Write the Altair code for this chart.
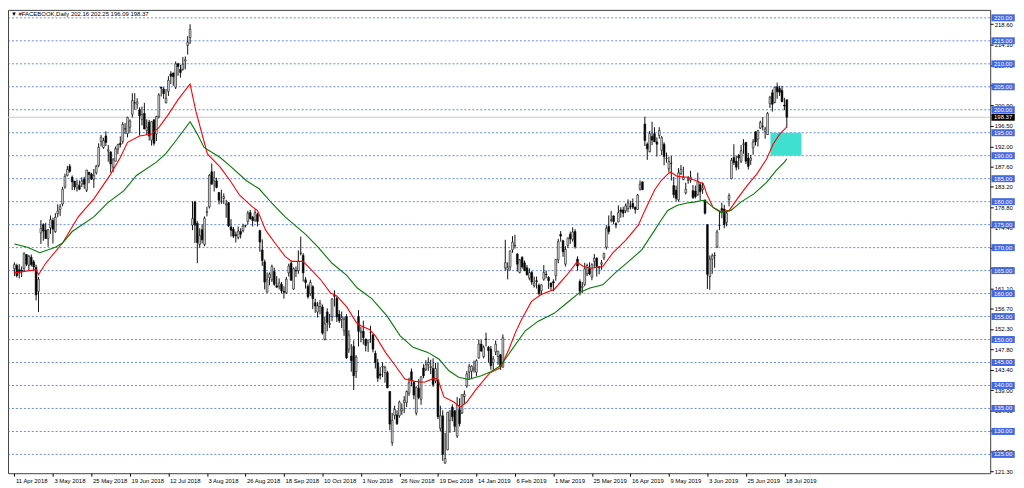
import json
import altair as alt
import pandas as pd

FONT = "Liberation Sans"

date_labels = ["11 Apr 2018", "3 May 2018", "25 May 2018", "19 Jun 2018", "12 Jul 2018",
               "3 Aug 2018", "26 Aug 2018", "18 Sep 2018", "10 Oct 2018", "1 Nov 2018",
               "26 Nov 2018", "19 Dec 2018", "14 Jan 2019", "6 Feb 2019", "1 Mar 2019",
               "25 Mar 2019", "16 Apr 2019", "9 May 2019", "3 Jun 2019", "25 Jun 2019",
               "18 Jul 2019"]
date_ticks = [0, 16, 32, 48, 64, 80, 96, 112, 128, 144, 160, 176, 192, 208, 224, 240,
              256, 272, 288, 304, 320]

price_ticks = [223.00, 218.60, 214.10, 209.70, 205.30, 200.90, 196.50, 192.00, 187.60,
               183.20, 178.80, 174.40, 169.90, 165.50, 161.10, 156.70, 152.30, 147.80,
               143.40, 139.00, 134.60, 130.10, 125.70, 121.30]
levels = [125, 130, 135, 140, 145, 150, 155, 160, 165, 170, 175, 180, 185, 190, 195,
          200, 205, 210, 215, 220]

opens = [
    165.4, 166.1, 165.2, 165.1, 165.5, 168.5, 166.2, 167.9, 166.9, 165.7,
    160.5, 173.2, 175.0, 173.8, 172.0, 174.3, 175.9, 173.5, 177.4, 178.3,
    179.5, 183.2, 185.7, 187.7, 185.3, 184.5, 183.0, 183.5, 183.8, 184.9,
    182.5, 186.4, 186.0, 184.9, 186.3, 187.9, 193.1, 191.8, 194.3, 191.0,
    190.8, 187.5, 188.8, 191.4, 192.7, 193.1, 195.8, 194.8, 196.2, 199.0,
    201.5, 201.2, 200.0, 197.9, 199.2, 195.5, 197.3, 193.4, 197.8, 194.7,
    198.5, 204.9, 204.5, 201.5, 204.0, 207.8, 208.0, 204.9, 210.0, 208.8,
    208.8, 210.6, 214.0, 215.7, 174.9, 179.9, 175.3, 170.7, 173.9, 170.7,
    177.7, 178.9, 186.5, 184.5, 184.5, 182.0, 180.1, 180.7, 179.3, 179.8,
    174.5, 174.0, 172.8, 172.2, 173.5, 173.7, 174.7, 175.7, 177.6, 176.6,
    176.0, 177.2, 173.7, 169.5, 166.9, 160.3, 163.5, 163.0, 164.8, 161.7,
    161.6, 162.0, 160.5, 160.2, 164.5, 166.6, 161.0, 165.0, 165.0, 168.8,
    168.3, 163.0, 161.6, 160.0, 161.5, 158.0, 156.0, 157.2, 157.1, 150.1,
    156.0, 153.3, 155.0, 159.6, 159.0, 155.5, 154.4, 151.9, 155.0, 147.9,
    146.4, 148.5, 143.0, 155.0, 151.5, 151.8, 150.1, 149.3, 151.5, 151.0,
    147.0, 144.9, 142.5, 144.0, 142.8, 142.8, 138.7, 127.6, 133.5, 133.6,
    133.4, 134.5, 136.3, 136.3, 138.3, 143.0, 140.7, 134.0, 139.4, 137.0,
    143.8, 143.5, 144.5, 143.9, 143.7, 141.0, 141.2, 130.7, 133.4, 123.1,
    126.0, 132.4, 135.3, 134.5, 129.0, 134.7, 134.0, 137.6, 139.9, 142.9,
    143.1, 143.4, 142.9, 146.0, 149.0, 146.3, 150.1, 148.3, 147.9, 145.0,
    147.3, 146.3, 146.7, 144.0, 165.6, 165.2, 165.8, 169.5, 170.4, 168.6,
    164.6, 167.9, 166.7, 165.6, 163.4, 164.6, 161.7, 162.8, 161.8, 160.6,
    163.1, 164.2, 163.5, 162.3, 162.6, 163.9, 167.4, 172.9, 171.5, 166.4,
    170.5, 172.9, 171.8, 173.5, 167.5, 162.6, 161.3, 162.0, 164.3, 165.4,
    163.6, 167.0, 167.7, 165.8, 166.4, 167.8, 170.1, 174.6, 176.0, 176.9,
    175.2, 175.6, 178.2, 178.2, 178.0, 178.5, 179.0, 179.6, 178.8, 178.3,
    182.7, 184.3, 196.9, 192.5, 190.9, 194.2, 194.8, 193.0, 194.4, 191.2,
    192.5, 189.4, 187.2, 188.3, 183.5, 182.5, 180.4, 186.1, 184.8, 181.9,
    184.6, 184.7, 182.4, 182.3, 181.5, 183.7, 182.6, 180.3, 175.0, 163.7,
    167.5, 168.3, 170.2, 174.8, 178.5, 178.4, 175.5, 180.5, 185.0, 189.6,
    188.8, 190.0, 188.8, 192.4, 192.9, 189.5, 189.0, 191.7, 195.2, 193.6,
    196.0, 196.4, 195.2, 194.6, 201.3, 203.7, 201.6, 205.0, 204.6, 204.2,
    201.0, 202.16]

highs = [
    166.8, 166.5, 166.4, 165.9, 169.0, 168.6, 168.4, 168.5, 167.3, 166.3,
    163.6, 176.0, 175.3, 175.4, 174.0, 177.0, 176.5, 177.5, 179.4, 179.5,
    183.2, 186.1, 187.8, 188.2, 185.7, 184.5, 184.8, 184.6, 185.3, 185.4,
    186.9, 186.5, 186.3, 187.1, 188.0, 192.7, 194.5, 193.9, 195.3, 192.3,
    191.0, 189.5, 192.0, 192.6, 194.2, 197.3, 197.1, 198.5, 197.9, 203.6,
    203.6, 202.5, 200.5, 200.7, 201.5, 197.9, 197.8, 197.5, 197.9, 198.7,
    203.6, 205.0, 204.9, 204.5, 207.3, 208.4, 208.1, 210.5, 210.2, 209.8,
    211.5, 211.6, 216.0, 218.6, 180.1, 180.2, 175.8, 174.2, 175.1, 176.8,
    178.9, 186.0, 188.3, 186.6, 185.2, 182.1, 182.6, 181.8, 180.4, 179.9,
    176.2, 174.5, 173.5, 174.6, 174.2, 175.2, 175.0, 178.0, 178.2, 176.9,
    178.3, 177.6, 173.9, 171.8, 167.4, 164.6, 164.6, 166.3, 165.6, 163.8,
    163.3, 162.5, 161.6, 163.6, 166.5, 167.2, 165.7, 165.9, 169.4, 172.4,
    168.8, 163.6, 162.0, 163.0, 161.8, 158.9, 158.2, 158.6, 157.6, 155.0,
    156.8, 155.6, 159.0, 160.7, 159.4, 156.4, 156.1, 155.0, 155.5, 152.0,
    149.0, 149.8, 146.6, 156.4, 152.8, 154.1, 150.2, 150.0, 153.0, 151.2,
    147.6, 145.8, 144.0, 145.0, 144.3, 143.2, 138.8, 134.0, 135.6, 134.6,
    136.7, 136.1, 137.7, 138.9, 141.7, 143.7, 141.0, 139.8, 141.4, 142.0,
    144.6, 145.5, 146.1, 145.6, 145.9, 144.9, 144.9, 135.6, 134.6, 129.7,
    134.2, 134.0, 135.9, 134.6, 137.5, 137.2, 138.0, 138.9, 143.1, 144.7,
    144.4, 145.4, 145.7, 150.0, 149.9, 148.7, 151.5, 148.6, 148.6, 146.4,
    149.8, 147.5, 146.8, 151.1, 171.7, 166.8, 169.3, 172.5, 172.8, 168.8,
    167.5, 168.1, 167.2, 166.2, 165.5, 164.9, 163.7, 163.7, 162.2, 162.0,
    166.2, 165.0, 163.8, 162.4, 163.1, 167.5, 171.9, 173.6, 171.7, 170.3,
    172.2, 173.5, 174.4, 174.0, 168.1, 163.1, 162.5, 166.7, 166.5, 166.8,
    166.6, 168.6, 167.9, 166.0, 167.3, 168.9, 174.9, 177.0, 178.0, 177.0,
    175.5, 179.2, 178.8, 178.9, 179.6, 180.5, 180.2, 180.7, 178.9, 181.7,
    184.6, 184.4, 198.5, 192.9, 195.4, 197.4, 196.2, 194.0, 196.2, 194.3,
    192.9, 190.7, 189.8, 190.0, 185.4, 183.5, 187.3, 188.0, 187.6, 184.1,
    185.6, 186.7, 183.6, 183.5, 186.3, 184.1, 184.2, 180.5, 175.1, 168.3,
    168.7, 169.0, 173.9, 177.9, 179.8, 179.3, 178.0, 181.8, 189.5, 192.5,
    190.0, 190.4, 192.3, 193.6, 193.0, 190.6, 190.2, 193.6, 195.3, 195.5,
    197.6, 198.4, 196.3, 199.5, 203.0, 204.4, 205.0, 205.9, 205.2, 205.2,
    202.6, 202.25]

lows = [
    163.8, 163.5, 163.3, 163.6, 164.9, 166.0, 165.0, 165.9, 165.0, 158.5,
    156.0, 170.8, 171.5, 171.9, 170.2, 173.0, 170.9, 173.2, 176.6, 176.9,
    179.0, 182.8, 185.5, 186.3, 182.5, 182.5, 182.2, 182.5, 183.2, 182.8,
    182.1, 184.0, 184.7, 183.0, 185.9, 187.5, 192.0, 191.5, 192.1, 188.7,
    186.3, 186.4, 188.8, 190.3, 191.8, 192.6, 194.7, 194.0, 194.9, 198.3,
    200.0, 200.2, 194.4, 196.6, 195.8, 194.5, 193.3, 192.2, 192.2, 193.2,
    198.1, 202.9, 202.4, 201.4, 203.0, 205.6, 205.2, 204.5, 207.4, 207.0,
    208.5, 208.8, 212.0, 214.3, 173.8, 171.0, 166.6, 170.0, 170.9, 170.3,
    176.8, 178.5, 183.7, 182.2, 182.9, 179.4, 179.5, 179.5, 176.5, 174.5,
    172.4, 172.1, 171.1, 171.8, 172.0, 173.3, 174.4, 175.0, 176.1, 174.6,
    175.6, 174.6, 169.1, 166.0, 160.9, 160.2, 161.8, 162.5, 161.7, 161.2,
    160.9, 160.0, 158.9, 159.9, 163.7, 162.8, 160.8, 163.6, 164.3, 168.3,
    162.6, 161.1, 158.9, 159.5, 156.6, 155.8, 154.8, 155.5, 151.1, 149.8,
    151.8, 152.5, 154.0, 157.2, 153.8, 153.6, 152.5, 150.8, 145.8, 147.1,
    143.0, 139.0, 141.6, 148.5, 149.4, 148.9, 147.4, 147.3, 149.3, 147.2,
    143.7, 140.8, 141.3, 141.8, 140.6, 139.4, 130.3, 126.9, 132.6, 131.4,
    133.0, 133.6, 134.0, 135.3, 137.7, 139.8, 137.0, 133.5, 137.0, 135.8,
    141.6, 143.1, 143.2, 142.5, 139.7, 140.5, 132.7, 130.0, 123.6, 123.0,
    125.9, 129.7, 132.2, 129.9, 128.6, 131.1, 133.8, 135.9, 139.5, 141.3,
    141.4, 142.8, 142.0, 145.8, 147.3, 145.9, 148.5, 145.0, 143.4, 143.3,
    146.6, 144.5, 143.4, 143.9, 165.0, 163.1, 165.0, 168.9, 169.8, 164.8,
    164.4, 165.4, 164.9, 163.9, 162.9, 161.9, 161.3, 161.1, 159.6, 159.8,
    162.8, 163.3, 161.0, 160.7, 160.5, 162.8, 166.6, 171.3, 168.0, 165.9,
    169.9, 170.8, 171.3, 169.8, 165.0, 159.6, 160.1, 161.6, 163.8, 164.0,
    162.9, 165.6, 163.7, 164.2, 165.2, 167.3, 169.6, 172.9, 175.5, 175.1,
    174.2, 175.5, 176.5, 176.6, 177.5, 177.7, 178.3, 178.4, 177.4, 178.2,
    182.4, 182.5, 192.1, 189.1, 190.7, 192.3, 193.0, 189.8, 193.7, 190.1,
    187.9, 188.5, 186.3, 184.6, 180.8, 180.1, 180.0, 185.8, 184.7, 181.6,
    183.9, 184.1, 180.6, 180.7, 181.3, 180.3, 181.7, 177.2, 161.0, 160.8,
    164.3, 165.6, 169.9, 173.8, 176.4, 174.2, 174.6, 179.0, 184.9, 188.0,
    186.8, 187.0, 188.4, 190.4, 188.2, 187.0, 188.0, 190.2, 192.2, 192.0,
    195.8, 195.5, 193.7, 194.5, 200.4, 199.6, 201.4, 202.4, 203.0, 201.6,
    199.9, 196.09]

closes = [
    166.3, 163.9, 164.5, 164.8, 168.7, 166.4, 168.1, 166.3, 165.8, 159.7,
    163.1, 174.2, 173.6, 172.0, 173.9, 176.1, 174.0, 176.6, 178.0, 178.9,
    182.7, 185.5, 187.0, 186.6, 184.3, 183.2, 183.8, 182.7, 184.5, 183.8,
    186.9, 185.9, 184.9, 185.7, 187.7, 191.8, 194.0, 193.3, 192.9, 191.3,
    188.2, 189.1, 191.5, 192.4, 192.4, 196.8, 195.9, 198.3, 197.5, 202.0,
    201.5, 201.7, 198.7, 199.0, 195.8, 196.2, 194.3, 197.4, 192.7, 198.5,
    203.2, 204.7, 203.5, 202.5, 206.4, 207.3, 207.2, 210.0, 209.4, 208.1,
    209.9, 210.9, 214.7, 217.5, 176.3, 174.9, 171.1, 172.6, 171.7, 176.4,
    177.8, 185.7, 183.8, 185.2, 183.1, 180.3, 180.1, 181.1, 179.5, 174.7,
    173.8, 172.5, 172.6, 173.6, 172.9, 174.7, 174.8, 177.5, 176.3, 175.9,
    177.6, 175.7, 171.2, 167.2, 162.5, 163.0, 164.2, 165.9, 162.0, 161.4,
    162.3, 160.6, 160.3, 163.1, 166.0, 162.9, 165.4, 164.9, 167.0, 168.8,
    164.5, 162.4, 159.3, 162.4, 158.9, 157.3, 157.3, 157.9, 151.4, 153.4,
    153.7, 153.5, 158.8, 159.4, 154.9, 154.1, 154.8, 154.4, 146.0, 151.0,
    145.4, 142.1, 146.2, 151.8, 151.8, 150.4, 148.7, 149.9, 151.5, 147.9,
    145.0, 141.6, 142.2, 144.2, 143.9, 139.5, 131.6, 132.4, 134.8, 131.7,
    136.4, 135.0, 136.8, 138.7, 140.6, 141.1, 137.9, 139.6, 137.4, 141.9,
    142.1, 144.5, 145.0, 144.1, 140.2, 143.7, 133.2, 133.4, 125.0, 124.1,
    134.2, 134.5, 133.2, 131.1, 135.7, 131.7, 138.0, 138.1, 142.5, 144.2,
    144.2, 143.8, 145.4, 149.0, 147.5, 148.3, 150.0, 147.6, 144.3, 145.8,
    149.0, 147.5, 144.2, 150.4, 166.7, 165.7, 169.3, 171.2, 170.5, 166.4,
    167.3, 165.8, 165.0, 164.1, 164.6, 162.5, 162.3, 162.6, 160.0, 161.9,
    164.6, 164.1, 162.8, 161.5, 162.3, 167.4, 171.3, 172.5, 169.1, 169.6,
    172.1, 171.9, 173.4, 170.2, 166.0, 160.5, 161.6, 165.4, 166.1, 164.3,
    166.3, 167.7, 165.9, 165.6, 166.7, 168.7, 174.2, 173.5, 176.0, 175.7,
    174.9, 177.6, 177.8, 177.5, 179.1, 179.7, 178.9, 178.8, 178.3, 181.4,
    183.8, 182.6, 193.3, 191.5, 194.8, 193.4, 193.0, 192.5, 195.5, 193.9,
    189.8, 189.5, 188.7, 188.3, 181.5, 180.7, 186.3, 187.0, 185.3, 182.7,
    184.8, 185.3, 180.9, 181.1, 184.3, 182.2, 183.0, 177.5, 164.2, 167.5,
    168.2, 168.3, 173.4, 174.8, 178.1, 175.0, 177.5, 181.3, 189.0, 188.5,
    187.5, 189.5, 191.1, 192.6, 188.8, 187.7, 189.5, 193.0, 193.0, 195.5,
    197.2, 196.4, 195.8, 199.2, 202.7, 201.2, 204.9, 203.9, 203.8, 201.8,
    200.8, 198.37]

# moving averages (bar position, value)
red_bar = [0, 9, 10, 13, 20, 26.5, 33, 40, 44, 47, 52, 57, 60, 64, 68, 73, 75.4, 80.2,
           85.5, 89.6, 93.6, 99, 101, 104.4, 108.4, 112.5, 115.2, 119.9, 123.3, 127.3,
           131.4, 134, 138.1, 142.1, 144, 147.5, 150, 154.2, 158.3, 162.3, 166.4, 170.4,
           174.5, 176, 178.5, 182.6, 185.3, 188, 192.1, 197.5, 202.1, 205.5, 208.2,
           210.8, 214.9, 218.9, 224.3, 229.7, 233.7, 236.5, 239.8, 244.5, 248.6, 254,
           259.3, 262, 266.1, 268.8, 271.5, 272.8, 275.5, 279.6, 283.6, 286.3, 287.7,
           290.3, 293.7, 297.1, 300.4, 304.5, 308.5, 312.6, 315.3, 318, 320, 321]
red_val = [164.5, 165.2, 164.1, 166.6, 171.0, 176.7, 180.6, 186.0, 189.6, 192.9, 194.3,
           194.7, 196.1, 199.0, 202.2, 205.6, 199.7, 190.4, 187.5, 184.6, 181.4, 178.8,
           178.1, 173.8, 170.9, 168.1, 167.0, 167.0, 165.2, 163.0, 160.1, 159.5, 157.1,
           153.7, 153.0, 152.2, 150.8, 147.2, 144.3, 141.4, 140.9, 140.7, 141.6, 141.3,
           137.5, 136.4, 135.3, 136.4, 139.3, 142.7, 143.9, 147.9, 151.5, 154.4, 158.3,
           159.8, 160.9, 164.1, 166.8, 165.9, 165.5, 165.9, 168.8, 171.6, 174.9, 178.1,
           182.6, 184.6, 186.0, 186.4, 185.5, 185.3, 184.5, 183.9, 181.7, 178.8, 177.8,
           178.1, 180.6, 183.5, 186.0, 189.3, 192.5, 194.7, 195.75, 196.3]
green_bar = [0, 5.4, 10.5, 17, 20, 24, 33, 38.6, 45.5, 50.7, 59, 63, 67, 73, 76, 78.8,
             85.5, 89.6, 96.3, 101.7, 107.1, 112.5, 116.5, 121, 126, 132, 138, 142.5,
             148.5, 154.9, 160.3, 165.7, 171.8, 176.5, 180.6, 184.6, 188.7, 194, 198,
             202, 206.9, 212.3, 217.7, 224.3, 229.7, 235.1, 239.2, 244.5, 249.9, 255.3,
             260.7, 266.1, 268.8, 271.5, 275.5, 279.6, 282.3, 286.3, 287.7, 291, 293.7,
             297.8, 301.9, 307.3, 312.6, 316.6, 320, 321]
green_val = [170.8, 170.1, 168.9, 170.1, 171.0, 173.5, 176.7, 179.7, 182.4, 185.7, 188.6,
             190.5, 193.2, 197.4, 194.7, 191.8, 189.6, 187.8, 184.6, 182.8, 179.6, 176.7,
             174.9, 172.9, 170.2, 166.6, 164.0, 161.2, 158.9, 155.1, 150.8, 148.3, 147.2,
             145.7, 143.2, 141.8, 141.3, 142.1, 143.0, 144.3, 147.9, 151.9, 154.0, 155.7,
             158.0, 160.3, 161.2, 161.9, 164.6, 167.0, 169.5, 173.8, 176.0, 178.1, 179.2,
             179.7, 179.9, 180.3, 179.9, 178.5, 177.6, 178.1, 179.9, 181.7, 184.2, 186.8,
             188.6, 189.3]

# highlighted zone (bar range, price range)
zone_bars = [314.2, 327.1]
zone_prices = [190.0, 195.0]

N = len(closes)
bars = pd.DataFrame({"i": list(range(N)), "open": opens, "high": highs,
                     "low": lows, "close": closes})
lvl_df = pd.DataFrame({"lvl": levels, "txt": [f"{v:.2f}" for v in levels]})
bid_df = pd.DataFrame({"p": [closes[-1]], "txt": [f"{closes[-1]:.2f}"]})
red_df = pd.DataFrame({"b": red_bar, "v": red_val})
green_df = pd.DataFrame({"b": green_bar, "v": green_val})
zone_df = pd.DataFrame({"x0": [zone_bars[0]], "x1": [zone_bars[1]],
                        "y0": [zone_prices[0]], "y1": [zone_prices[1]]})
header = (f"\u25BC #FACEBOOK,Daily  {opens[-1]:.2f} {highs[-1]:.2f} "
          f"{lows[-1]:.2f} {closes[-1]:.2f}")
head_df = pd.DataFrame({"t": [header]})

W, H = 990, 467
xs = alt.Scale(domain=[-0.612, 403.47], nice=False, zero=False)
ys = alt.Scale(domain=[120.91, 221.73], nice=False, zero=False)

label_expr = json.dumps(date_labels) + "[round(datum.value / 16)]"
XA = alt.Axis(values=date_ticks, labelExpr=label_expr, title=None, grid=False,
              domain=False, tickSize=3, tickColor="black", labelFont=FONT,
              labelFontSize=6, labelColor="black", labelAlign="left",
              labelBaseline="top", labelPadding=1, labelOffset=1,
              labelFlush=False, labelOverlap=False)
YA = alt.Axis(orient="right", values=price_ticks, format=".2f", title=None,
              grid=False, domain=False, tickSize=3, tickColor="black",
              labelFont=FONT, labelFontSize=6, labelColor="black",
              labelPadding=1, labelFlush=False, labelOverlap=False,
              labelBaseline="middle")


def X(field):
    return alt.X(field, scale=xs, axis=XA)


def Y(field):
    return alt.Y(field, scale=ys, axis=YA)


grid = alt.Chart(lvl_df).mark_rule(color="#4169E1", strokeDash=[2, 2], strokeWidth=1,
                                   opacity=0.8).encode(y=Y("lvl:Q"))

bid_line = alt.Chart(bid_df).mark_rule(color="#C8C8C8", strokeWidth=1).encode(
    y=Y("p:Q"))

zone = alt.Chart(zone_df).mark_rect(color="#40E0D0").encode(
    x=X("x0:Q"), x2="x1", y=Y("y0:Q"), y2="y1")

wicks = alt.Chart(bars).mark_rule(color="#111111", strokeWidth=1).encode(
    x=X("i:Q"), y=Y("low:Q"), y2="high")

bodies = alt.Chart(bars).mark_bar(size=1.8, stroke="#111111", strokeWidth=0.6).encode(
    x=X("i:Q"), y=Y("open:Q"), y2="close",
    fill=alt.condition("datum.close >= datum.open", alt.value("#E0E0E0"),
                       alt.value("black")))

red_line = alt.Chart(red_df).mark_line(color="#FF0000", strokeWidth=1.1).encode(
    x=X("b:Q"), y=Y("v:Q"))
green_line = alt.Chart(green_df).mark_line(color="#007A00", strokeWidth=1.1).encode(
    x=X("b:Q"), y=Y("v:Q"))

BOX = "M-1,-0.3H1V0.3H-1Z"
lvl_box = alt.Chart(lvl_df).mark_point(shape=BOX, size=552, filled=True,
                                       color="#4169E1", opacity=1).encode(
    x=alt.value(1003), y=Y("lvl:Q"))
lvl_txt = alt.Chart(lvl_df).mark_text(color="white", fontSize=6, font=FONT,
                                      align="center", baseline="middle").encode(
    x=alt.value(1003), y=Y("lvl:Q"), text="txt:N")
bid_box = alt.Chart(bid_df).mark_point(shape=BOX, size=552, filled=True,
                                       color="black", opacity=1).encode(
    x=alt.value(1003), y=Y("p:Q"))
bid_txt = alt.Chart(bid_df).mark_text(color="white", fontSize=6, font=FONT,
                                      align="center", baseline="middle").encode(
    x=alt.value(1003), y=Y("p:Q"), text="txt:N")

head = alt.Chart(head_df).mark_text(align="left", baseline="top", fontSize=6, font=FONT,
                                    color="black").encode(
    x=alt.value(3), y=alt.value(1), text="t:N")

chart = alt.layer(
    grid, bid_line, zone, wicks, bodies, red_line, green_line,
    lvl_box, lvl_txt, bid_box, bid_txt, head
).properties(
    width=W, height=H,
    autosize=alt.AutoSizeParams(type="none"),
    padding={"left": 0, "top": 0, "right": 26, "bottom": 13},
).configure_view(stroke="#404040", strokeWidth=1)

chart.save("out.html", embed_options={"renderer": "svg", "actions": False})
